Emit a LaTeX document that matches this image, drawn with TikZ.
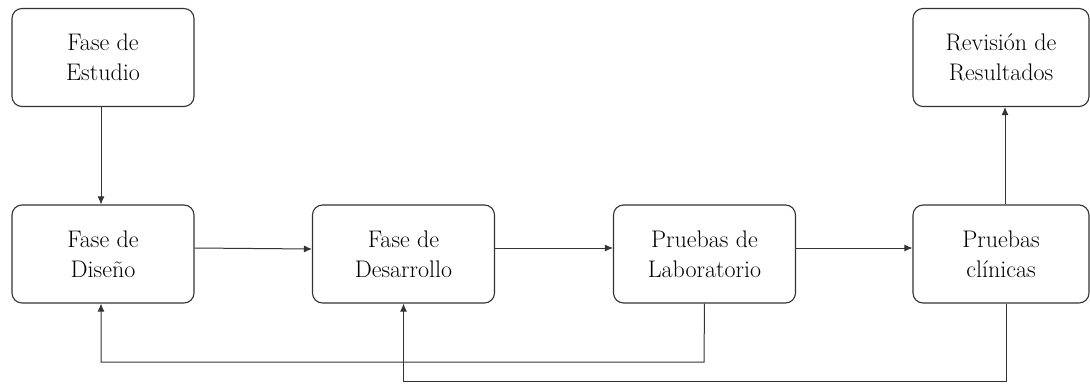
\documentclass[tikz,border=0pt]{standalone}
\usetikzlibrary{arrows.meta}
\begin{document}
\begin{tikzpicture}[x=1pt,y=-1pt,
  box/.style={draw=black!80,line width=1.1pt,rounded corners=10pt,minimum width=182pt,minimum height=98pt,align=center,font=\fontsize{24}{30}\selectfont,text=black,inner sep=0pt},
  arr/.style={draw=black!80,line width=1pt,-{Latex[length=8pt,width=7pt]}}]
\useasboundingbox (0,0) rectangle (1090,383);
\node[box] (est) at (103,57.5) {Fase de\\Estudio};
\node[box] (dis) at (103,254) {Fase de\\Diseño};
\node[box] (des) at (403.5,254) {Fase de\\Desarrollo};
\node[box] (lab) at (704.5,254) {Pruebas de\\Laboratorio};
\node[box,minimum width=176pt] (cli) at (1001,254) {Pruebas\\clínicas};
\node[box,minimum width=176pt] (rev) at (1001,57.5) {Revisión de\\Resultados};
\draw[arr] ([xshift=-2pt]est.south) -- ([xshift=-2pt]dis.north);
\draw[arr] ([yshift=6pt]dis.east) -- ([yshift=5pt]des.west);
\draw[arr] ([yshift=6pt]des.east) -- ([yshift=6pt]lab.west);
\draw[arr] ([yshift=6pt]lab.east) -- ([yshift=6pt]cli.west);
\draw[arr] ([xshift=4pt]cli.north) -- ([xshift=4pt]rev.south);
\coordinate (c1) at (704,362);
\coordinate (c2) at (1006,381);
\draw[arr] (lab.south) -- (c1) -| ([xshift=-2pt]dis.south);
\draw[arr] ([xshift=5pt]cli.south) -- (c2) -| (des.south);
\end{tikzpicture}
\end{document}
